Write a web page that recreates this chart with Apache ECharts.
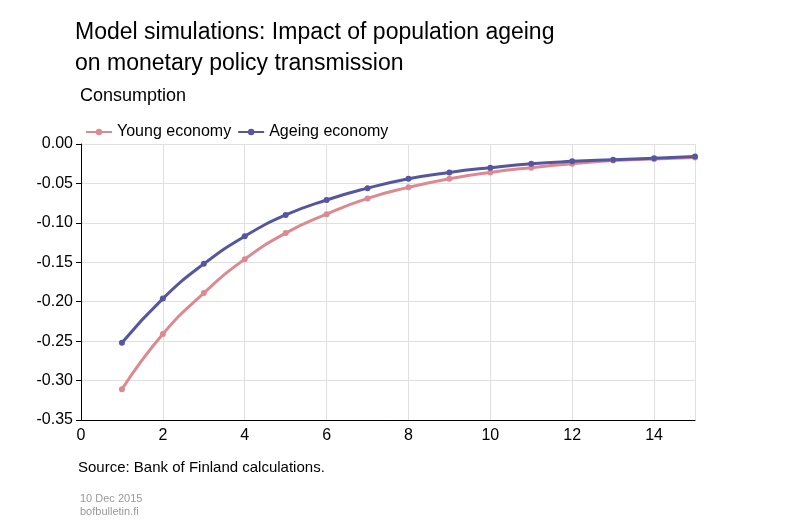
<!DOCTYPE html><html><head><meta charset="utf-8"><script src="https://cdn.jsdelivr.net/npm/echarts@6/dist/echarts.min.js"></script>
<style>body{margin:0}#c{width:800px;height:522px}</style></head><body><div id="c"></div><script>
const periods=[1,2,3,4,5,6,7,8,9,10,11,12,13,14,15];
const young=[-0.311,-0.241,-0.189,-0.146,-0.113,-0.089,-0.069,-0.055,-0.044,-0.036,-0.030,-0.025,-0.021,-0.019,-0.017];
const ageing=[-0.252,-0.196,-0.152,-0.117,-0.090,-0.071,-0.056,-0.044,-0.036,-0.030,-0.025,-0.022,-0.020,-0.018,-0.016];
const F='Liberation Sans, Arial';
const c=echarts.init(document.getElementById('c'));
c.setOption({
 textStyle:{fontFamily:F},
 title:[{text:'Model simulations: Impact of population ageing\non monetary policy transmission',left:70,top:12,textStyle:{fontFamily:F,fontSize:23,fontWeight:'normal',color:'#000',lineHeight:31}},
 {text:'Consumption',left:75,top:82,textStyle:{fontFamily:F,fontSize:18,fontWeight:'normal',color:'#000'}},
 {text:'Source: Bank of Finland calculations.',left:73,top:455,textStyle:{fontFamily:F,fontSize:15,fontWeight:'normal',color:'#000'}},
 {text:'10 Dec 2015\nbofbulletin.fi',left:75,top:487,textStyle:{fontFamily:F,fontSize:11,fontWeight:'normal',color:'#999',lineHeight:13}}],
 legend:{left:80,top:119,itemGap:6,itemWidth:26,itemHeight:8,textStyle:{fontFamily:F,fontSize:16,color:'#000'},data:['Young economy','Ageing economy']},
 grid:{left:81,right:105,top:144,bottom:102},
 xAxis:{type:'value',min:0,max:15,interval:2,axisLine:{onZero:false,lineStyle:{color:'#000'}},axisTick:{show:false},splitLine:{lineStyle:{color:'#e0e0e0'}},axisLabel:{showMaxLabel:false,color:'#000',fontSize:16,fontFamily:F}},
 yAxis:{type:'value',min:-0.35,max:0,interval:0.05,axisLine:{show:true,lineStyle:{color:'#000'}},axisTick:{show:true,lineStyle:{color:'#000'}},splitLine:{lineStyle:{color:'#e0e0e0'}},axisLabel:{formatter:v=>v.toFixed(2),color:'#000',fontSize:16,fontFamily:F}},
 series:[
 {name:'Young economy',type:'line',smooth:true,symbol:'circle',symbolSize:6,color:'#dc8a92',lineStyle:{width:3},data:periods.map((p,i)=>[p,young[i]])},
 {name:'Ageing economy',type:'line',smooth:true,symbol:'circle',symbolSize:6,color:'#5656a0',lineStyle:{width:3},data:periods.map((p,i)=>[p,ageing[i]])}]
});
</script></body></html>
